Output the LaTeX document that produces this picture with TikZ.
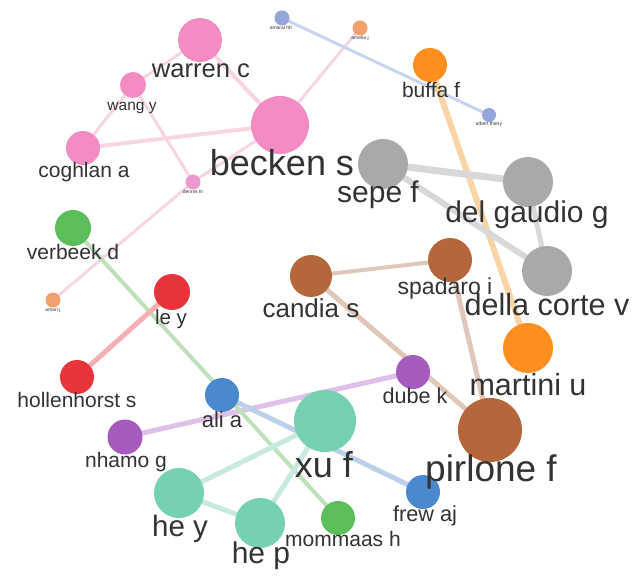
\documentclass[tikz,border=0pt]{standalone}
\usepackage{fontspec}
\setmainfont{Liberation Sans}
\usetikzlibrary{backgrounds}
\definecolor{cpink}{HTML}{F28CC3}
\definecolor{cgrey}{HTML}{A9A9A9}
\definecolor{corange}{HTML}{FF8F1F}
\definecolor{cbrown}{HTML}{B4673A}
\definecolor{cpurple}{HTML}{A55BBE}
\definecolor{cgreen}{HTML}{5BBE5B}
\definecolor{cred}{HTML}{E8353B}
\definecolor{cblue}{HTML}{4A89CD}
\definecolor{cteal}{HTML}{76D0B2}
\definecolor{csblue}{HTML}{93A5DA}
\definecolor{csorange}{HTML}{F2A070}
\definecolor{cspink}{HTML}{E99CCB}
\definecolor{txt}{HTML}{333333}
\definecolor{epink}{HTML}{F7D6E3}
\definecolor{eblue}{HTML}{C9D4EF}
\definecolor{eorange}{HTML}{F9D4A6}
\definecolor{egrey}{HTML}{D8D8D8}
\definecolor{ebrown}{HTML}{DFC8B9}
\definecolor{epurple}{HTML}{DFC0E8}
\definecolor{egreen}{HTML}{C0E0BC}
\definecolor{ered}{HTML}{F4B0B3}
\definecolor{eblue2}{HTML}{BDD0EA}
\definecolor{eteal}{HTML}{C8EADD}
\tikzset{
  nd/.style={circle, inner sep=0pt, draw=none},
  lbl/.style={anchor=base, text=txt, inner sep=0pt, font=\fontsize{#1}{#1}\selectfont},
  ed/.style={line width=#1, line cap=round}
}
\begin{document}
\begin{tikzpicture}[x=1pt,y=-1pt]
\useasboundingbox (0,0) rectangle (642,577);
% nodes
\node[nd, fill=cpink, minimum size=44pt] (warren) at (200,40) {};
\node[nd, fill=cpink, minimum size=26pt] (wang) at (133,85) {};
\node[nd, fill=cpink, minimum size=34pt] (coghlan) at (83,148) {};
\node[nd, fill=cpink, minimum size=58pt] (becken) at (280,125) {};
\node[nd, fill=cspink, minimum size=15pt] (dennis) at (193,182) {};
\node[nd, fill=csblue, minimum size=15pt] (amaral) at (282,18) {};
\node[nd, fill=csorange, minimum size=15pt] (amelia) at (360,28) {};
\node[nd, fill=corange, minimum size=34pt] (buffa) at (430,65) {};
\node[nd, fill=csblue, minimum size=14pt] (albert) at (489,115) {};
\node[nd, fill=cgrey, minimum size=50pt] (sepe) at (383,164) {};
\node[nd, fill=cgrey, minimum size=50pt] (delgaudio) at (528,182) {};
\node[nd, fill=cgrey, minimum size=50pt] (dellacorte) at (547,271) {};
\node[nd, fill=cbrown, minimum size=44pt] (spadaro) at (450,260) {};
\node[nd, fill=cbrown, minimum size=42pt] (candia) at (311,276) {};
\node[nd, fill=corange, minimum size=50pt] (martini) at (528,348) {};
\node[nd, fill=cbrown, minimum size=64pt] (pirlone) at (490,430) {};
\node[nd, fill=cpurple, minimum size=34pt] (dube) at (413,372) {};
\node[nd, fill=cgreen, minimum size=36pt] (verbeek) at (73,228) {};
\node[nd, fill=csorange, minimum size=15pt] (amari) at (53,300) {};
\node[nd, fill=cred, minimum size=36pt] (ley) at (172,292) {};
\node[nd, fill=cred, minimum size=34pt] (hollenhorst) at (77,377) {};
\node[nd, fill=cblue, minimum size=34pt] (ali) at (222,395) {};
\node[nd, fill=cpurple, minimum size=35pt] (nhamo) at (125,437) {};
\node[nd, fill=cteal, minimum size=62pt] (xu) at (325,421) {};
\node[nd, fill=cteal, minimum size=50pt] (hey) at (179,493) {};
\node[nd, fill=cteal, minimum size=50pt] (hep) at (260,523) {};
\node[nd, fill=cgreen, minimum size=34pt] (mommaas) at (338,518) {};
\node[nd, fill=cblue, minimum size=34pt] (frew) at (423,492) {};
% edges
\begin{scope}[on background layer]
\fill[white] (0,0) rectangle (642,577);
\draw[ed=4pt, epink] (warren) -- (becken);
\draw[ed=3pt, epink] (wang) -- (warren);
\draw[ed=3pt, epink] (wang) -- (coghlan);
\draw[ed=3pt, epink] (wang) -- (dennis);
\draw[ed=4pt, epink] (coghlan) -- (becken);
\draw[ed=3pt, epink] (becken) -- (dennis);
\draw[ed=3pt, epink] (becken) -- (amelia);
\draw[ed=3pt, epink] (dennis) -- (amari);
\draw[ed=3pt, eblue] (amaral) -- (albert);
\draw[ed=6pt, eorange] (buffa) -- (martini);
\draw[ed=7pt, egrey] (sepe) -- (delgaudio);
\draw[ed=6pt, egrey] (sepe) -- (dellacorte);
\draw[ed=5pt, egrey] (delgaudio) -- (dellacorte);
\draw[ed=4pt, ebrown] (spadaro) -- (candia);
\draw[ed=5pt, ebrown] (spadaro) -- (pirlone);
\draw[ed=5pt, ebrown] (candia) -- (pirlone);
\draw[ed=5pt, epurple] (nhamo) -- (dube);
\draw[ed=4pt, egreen] (verbeek) -- (mommaas);
\draw[ed=5pt, ered] (ley) -- (hollenhorst);
\draw[ed=5pt, eblue2] (ali) -- (frew);
\draw[ed=5pt, eteal] (xu) -- (hey);
\draw[ed=5pt, eteal] (xu) -- (hep);
\draw[ed=5pt, eteal] (hey) -- (hep);
\end{scope}
% labels
\node[lbl=25.6] (lwarren) at (201,78) {warren c};
\node[lbl=15.5] (lwang) at (132,111) {wang y};
\node[lbl=21] (lcoghlan) at (84,178) {coghlan a};
\node[lbl=36] (lbecken) at (282,176) {becken s};
\node[lbl=5] (ldennis) at (193,194) {dennis m};
\node[lbl=5] (lamaral) at (281,30) {amaral hfr};
\node[lbl=5] (lamelia) at (360,40) {amelia j};
\node[lbl=21] (lbuffa) at (431,98) {buffa f};
\node[lbl=5] (lalbert) at (489,126) {albert thiery};
\node[lbl=30] (lsepe) at (378,203) {sepe f};
\node[lbl=30] (ldelgaudio) at (527,223) {del gaudio g};
\node[lbl=30.6] (ldellacorte) at (547,315) {della corte v};
\node[lbl=23] (lspadaro) at (445,294) {spadaro i};
\node[lbl=26] (lcandia) at (311,317) {candia s};
\node[lbl=30.5] (lmartini) at (528,395) {martini u};
\node[lbl=37] (lpirlone) at (491,481) {pirlone f};
\node[lbl=21.6] (ldube) at (415,403) {dube k};
\node[lbl=21] (lverbeek) at (73,259) {verbeek d};
\node[lbl=5] (lamari) at (53,311) {amari j};
\node[lbl=20.5] (lley) at (171,324) {le y};
\node[lbl=21] (lhollenhorst) at (77,407) {hollenhorst s};
\node[lbl=22] (lali) at (222,427) {ali a};
\node[lbl=21] (lnhamo) at (126,467) {nhamo g};
\node[lbl=36] (lxu) at (324,477) {xu f};
\node[lbl=29.5] (lhey) at (180,536) {he y};
\node[lbl=30] (lhep) at (261,563) {he p};
\node[lbl=21] (lmommaas) at (343,546) {mommaas h};
\node[lbl=21.7] (lfrew) at (425,521) {frew aj};
\end{tikzpicture}
\end{document}
